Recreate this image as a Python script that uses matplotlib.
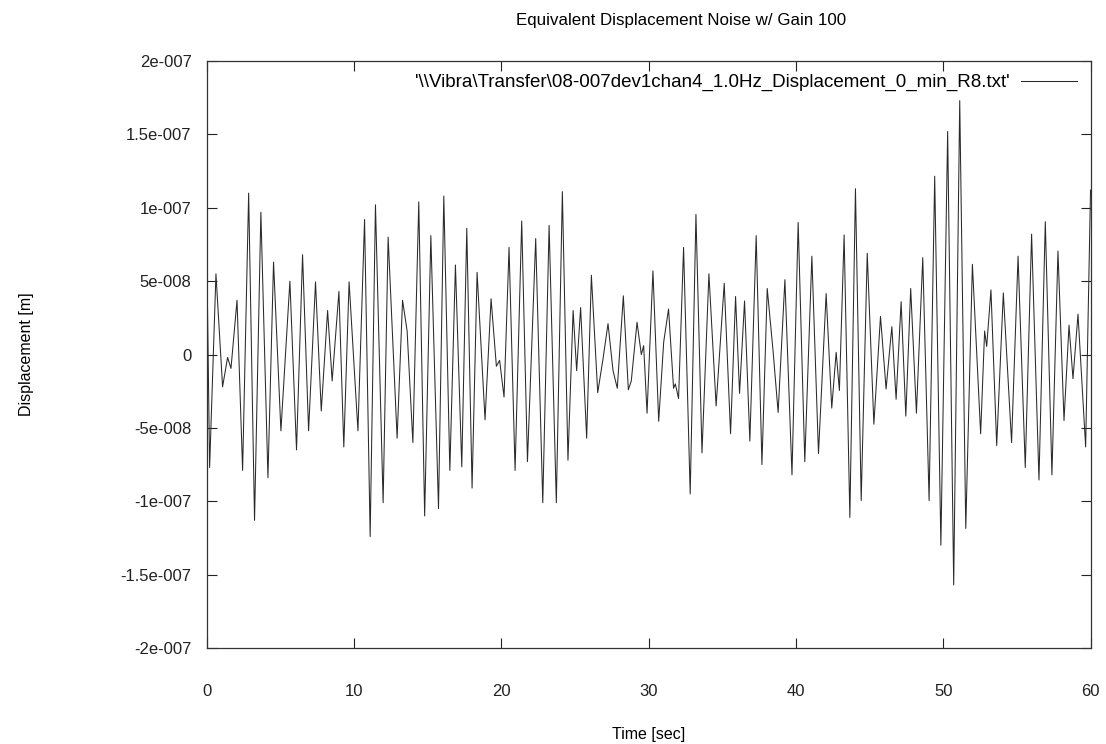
import matplotlib
matplotlib.use("Agg")
import matplotlib.pyplot as plt

plt.rcParams['font.family'] = ['Liberation Sans', 'DejaVu Sans']

# extrema: time [s], displacement [1e-8 m]
t_sec = [0.00, 0.19, 0.62, 1.07, 1.41, 1.64, 2.05, 2.43, 2.84, 3.24,
         3.67, 4.15, 4.53, 5.03, 5.64, 6.09, 6.50, 6.91, 7.38, 7.77,
         8.20, 8.51, 8.97, 9.30, 9.66, 10.26, 10.71, 11.09, 11.45, 11.97,
         12.31, 12.92, 13.29, 13.60, 13.99, 14.39, 14.79, 15.21, 15.73, 16.09,
         16.50, 16.88, 17.31, 17.65, 18.01, 18.35, 18.89, 19.30, 19.66, 19.88,
         20.18, 20.52, 20.93, 21.38, 21.77, 22.33, 22.81, 23.24, 23.73, 24.14,
         24.52, 24.87, 25.11, 25.38, 25.79, 26.11, 26.54, 26.90, 27.24, 27.58,
         27.87, 28.28, 28.62, 28.82, 29.21, 29.50, 29.66, 29.89, 30.29, 30.68,
         31.02, 31.35, 31.69, 31.81, 32.03, 32.37, 32.82, 33.21, 33.62, 34.09,
         34.58, 35.13, 35.56, 35.90, 36.17, 36.51, 36.87, 37.30, 37.69, 38.05,
         38.45, 38.79, 39.25, 39.73, 40.15, 40.60, 41.08, 41.53, 42.05, 42.43,
         42.73, 42.95, 43.27, 43.66, 44.04, 44.43, 44.84, 45.29, 45.74, 46.12,
         46.51, 46.80, 47.14, 47.46, 47.79, 48.18, 48.61, 49.04, 49.42, 49.84,
         50.30, 50.71, 51.12, 51.53, 51.98, 52.54, 52.81, 52.95, 53.24, 53.63,
         54.08, 54.64, 55.08, 55.57, 56.00, 56.50, 56.93, 57.38, 57.79, 58.20,
         58.54, 58.81, 59.15, 59.67, 60.00]
disp_e8 = [6.7, -7.7, 5.5, -2.2, -0.2, -0.95, 3.7, -7.9, 11.0, -11.3,
           9.7, -8.4, 6.3, -5.2, 5.0, -6.5, 6.8, -5.2, 4.95, -3.85,
           3.0, -1.8, 4.3, -6.3, 4.95, -5.2, 9.2, -12.4, 10.2, -10.1,
           8.0, -5.7, 3.7, 1.6, -6.0, 10.4, -11.0, 8.1, -10.5, 10.8,
           -7.9, 6.1, -7.65, 8.6, -9.1, 5.6, -4.45, 3.8, -0.8, -0.4,
           -2.9, 7.3, -7.9, 9.1, -7.3, 7.9, -10.1, 8.8, -10.1, 11.1,
           -7.2, 3.0, -1.1, 3.2, -5.7, 5.4, -2.6, -0.3, 2.1, -1.1,
           -2.3, 4.0, -2.4, -1.8, 2.2, 0.0, 0.6, -4.0, 5.7, -4.55,
           0.85, 3.1, -2.3, -2.0, -3.0, 7.3, -9.5, 9.55, -6.7, 5.5,
           -3.5, 4.85, -5.4, 3.95, -2.65, 3.65, -5.9, 8.1, -7.5, 4.5,
           0.2, -3.95, 5.1, -8.2, 9.0, -7.3, 6.7, -6.75, 4.15, -3.65,
           0.15, -2.45, 8.15, -11.1, 11.3, -9.95, 6.9, -4.75, 2.6, -2.35,
           1.9, -3.05, 3.6, -4.2, 4.5, -4.0, 6.6, -9.95, 12.15, -13.0,
           15.2, -15.7, 17.3, -11.85, 6.15, -5.4, 1.6, 0.55, 4.4, -6.2,
           4.2, -6.0, 6.7, -7.7, 8.2, -8.55, 9.05, -8.2, 7.05, -4.5,
           2.0, -1.65, 2.75, -6.3, 11.2]

disp = [v * 1e-8 for v in disp_e8]

yticks = [-2e-7, -1.5e-7, -1e-7, -5e-8, 0, 5e-8, 1e-7, 1.5e-7, 2e-7]
ytick_labels = ['-2e-007', '-1.5e-007', '-1e-007', '-5e-008', '0',
                '5e-008', '1e-007', '1.5e-007', '2e-007']
xticks = [0, 10, 20, 30, 40, 50, 60]

legend_label = "'\\\\Vibra\\Transfer\\08-007dev1chan4_1.0Hz_Displacement_0_min_R8.txt'"

fig = plt.figure(figsize=(11.06, 7.44), dpi=100)
ax = fig.add_axes([0.187, 0.129, 0.799, 0.789])

ax.plot(t_sec, disp, color='#2a2a2a', lw=0.75, label=legend_label)

ax.set_xlim(0, 60)
ax.set_ylim(-2e-7, 2e-7)
ax.set_xticks(xticks)
ax.set_yticks(yticks)
ax.set_yticklabels(ytick_labels)
ax.tick_params(direction='in', length=7, width=0.8, top=True, right=True,
               labelsize=12, colors='#222222')
ax.tick_params(axis='x', pad=26)
ax.tick_params(axis='y', pad=11)
for sp in ax.spines.values():
    sp.set_linewidth(0.9)
    sp.set_color('#333333')

# gnuplot put the title a little right of the axes centre
fig.text(0.616, 0.973, 'Equivalent Displacement Noise w/ Gain 100',
         fontsize=12.2, ha='center', va='center')
ax.set_xlabel('Time [sec]', fontsize=11.5, labelpad=20)
ax.set_ylabel('Displacement [m]', fontsize=11.5, labelpad=62)

ax.legend(loc='upper right', frameon=False, markerfirst=False, fontsize=13.5,
          handlelength=3.0, borderaxespad=0.3, handletextpad=0.6)

fig.savefig('out.png', dpi=100)
